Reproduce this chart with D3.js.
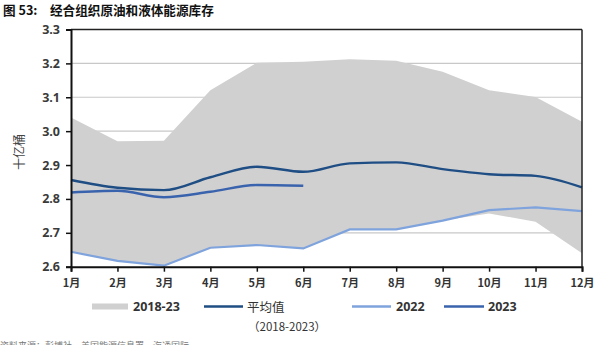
<!DOCTYPE html>
<html><head><meta charset="utf-8">
<script src="https://cdn.jsdelivr.net/npm/d3@7"></script>
<style>
body{margin:0;background:#fff;}
svg{display:block;font-family:"Liberation Sans","Noto Sans CJK SC",sans-serif;}
</style></head>
<body>
<svg id="c" width="608" height="345"></svg>
<script>
const months = ["1月","2月","3月","4月","5月","6月","7月","8月","9月","10月","11月","12月"];
const yTicks = [2.6,2.7,2.8,2.9,3.0,3.1,3.2,3.3];
const bandMax = [3.04,2.97,2.972,3.121,3.202,3.205,3.212,3.208,3.175,3.121,3.101,3.028];
const bandMin = [2.644,2.617,2.603,2.656,2.664,2.654,2.710,2.710,2.736,2.757,2.733,2.640];
const avgVals = [2.856,2.833,2.826,2.864,2.895,2.880,2.905,2.908,2.888,2.873,2.868,2.834];
const v2022 = [2.644,2.617,2.603,2.656,2.664,2.654,2.710,2.710,2.736,2.767,2.775,2.764];
const v2023 = [2.819,2.824,2.805,2.821,2.841,2.839];

const svg = d3.select("#c");
const L=71, R=582, T=29.5, B=266.7;
const x = d3.scalePoint().domain(months).range([L,R]);
const y = d3.scaleLinear().domain([2.6,3.3]).range([B,T]);

// title
const tg = svg.append("g").attr("font-family","'Noto Sans CJK SC',sans-serif").attr("font-weight","bold").attr("fill","#111");
tg.append("text").attr("x",3).attr("y",15).attr("font-size",12.6).text("图 53:");
tg.append("text").attr("x",50).attr("y",15).attr("font-size",12.6).text("经合组织原油和液体能源库存");

// gridlines
svg.append("g").selectAll("line").data(yTicks.filter(d=>d>2.6 && d<3.3)).join("line")
  .attr("x1",L).attr("x2",R).attr("y1",d=>y(d)).attr("y2",d=>y(d))
  .attr("stroke","#c8c8c8").attr("stroke-width",1.2);

// band
const area = d3.area().x((d,i)=>x(months[i])).y0((d,i)=>y(bandMin[i])).y1(d=>y(d));
svg.append("path").datum(bandMax).attr("d",area).attr("fill","#d1d0d1");

// lines
const line = d3.line().x((d,i)=>x(months[i])).y(d=>y(d));
const smooth = d3.line().x((d,i)=>x(months[i])).y(d=>y(d)).curve(d3.curveMonotoneX);
svg.append("path").datum(v2022).attr("d",line).attr("fill","none").attr("stroke","#7fa3dc").attr("stroke-width",2.2);
svg.append("path").datum(avgVals).attr("d",smooth).attr("fill","none").attr("stroke","#1f4e85").attr("stroke-width",2.4);
svg.append("path").datum(v2023).attr("d",smooth).attr("fill","none").attr("stroke","#3a63ad").attr("stroke-width",2.4);

// frame top/right
svg.append("line").attr("x1",L).attr("x2",R).attr("y1",T).attr("y2",T).attr("stroke","#222").attr("stroke-width",1.5);
svg.append("line").attr("x1",R).attr("x2",R).attr("y1",T).attr("y2",B).attr("stroke","#222").attr("stroke-width",1.5);

// y axis
const ya = svg.append("g").attr("transform",`translate(${L},0)`)
  .call(d3.axisLeft(y).tickValues(yTicks).tickFormat(d3.format(".1f")).tickSize(5).tickPadding(6));
ya.select(".domain").attr("stroke","#111").attr("stroke-width",2);
ya.selectAll(".tick line").attr("stroke","#111").attr("stroke-width",1.5);
ya.selectAll("text").attr("font-size",12.5).attr("font-weight","bold").attr("fill","#3a3a3a")
  .attr("font-family","'Open Sans','Liberation Sans',sans-serif");

// x axis
const xa = svg.append("g").attr("transform",`translate(0,${B})`)
  .call(d3.axisBottom(x).tickSize(5).tickPadding(8));
xa.select(".domain").attr("stroke","#111").attr("stroke-width",2);
xa.selectAll(".tick line").attr("stroke","#111").attr("stroke-width",1.5);
xa.selectAll("text").attr("font-size",11).attr("font-weight","bold").attr("fill","#333")
  .attr("font-family","'Noto Sans CJK SC',sans-serif");

// y title
svg.append("text").attr("transform","translate(24,152) rotate(-90)").attr("text-anchor","middle")
  .attr("font-size",12).attr("fill","#444").attr("font-family","'Noto Sans CJK SC',sans-serif")
  .text("十亿桶");

// legend
const lg = svg.append("g").attr("font-family","'Open Sans','Liberation Sans',sans-serif")
  .attr("font-size",12.5).attr("font-weight","bold").attr("fill","#333");
lg.append("rect").attr("x",92).attr("y",303.5).attr("width",36).attr("height",6).attr("fill","#d1d0d1");
lg.append("text").attr("x",133).attr("y",311).text("2018-23");
lg.append("line").attr("x1",204).attr("x2",243).attr("y1",306.5).attr("y2",306.5).attr("stroke","#1f4e85").attr("stroke-width",2.4);
lg.append("text").attr("x",247).attr("y",312).attr("font-family","'Noto Sans CJK SC',sans-serif").attr("font-weight","normal").text("平均值");
lg.append("text").attr("x",248).attr("y",331).attr("font-family","'Noto Sans CJK SC',sans-serif").attr("font-weight","normal").attr("font-size",11.5).text("（2018-2023）");
lg.append("line").attr("x1",352).attr("x2",391).attr("y1",306.5).attr("y2",306.5).attr("stroke","#7fa3dc").attr("stroke-width",2.4);
lg.append("text").attr("x",396).attr("y",311).text("2022");
lg.append("line").attr("x1",444).attr("x2",484).attr("y1",306.5).attr("y2",306.5).attr("stroke","#3a63ad").attr("stroke-width",2.4);
lg.append("text").attr("x",488).attr("y",311).text("2023");

// source (cut off at bottom edge, as in the reference)
svg.append("text").attr("x",0).attr("y",349).attr("font-size",9).attr("fill","#777")
  .attr("font-family","'Noto Sans CJK SC',sans-serif").text("资料来源：彭博社，美国能源信息署，海通国际");
</script>
</body></html>
